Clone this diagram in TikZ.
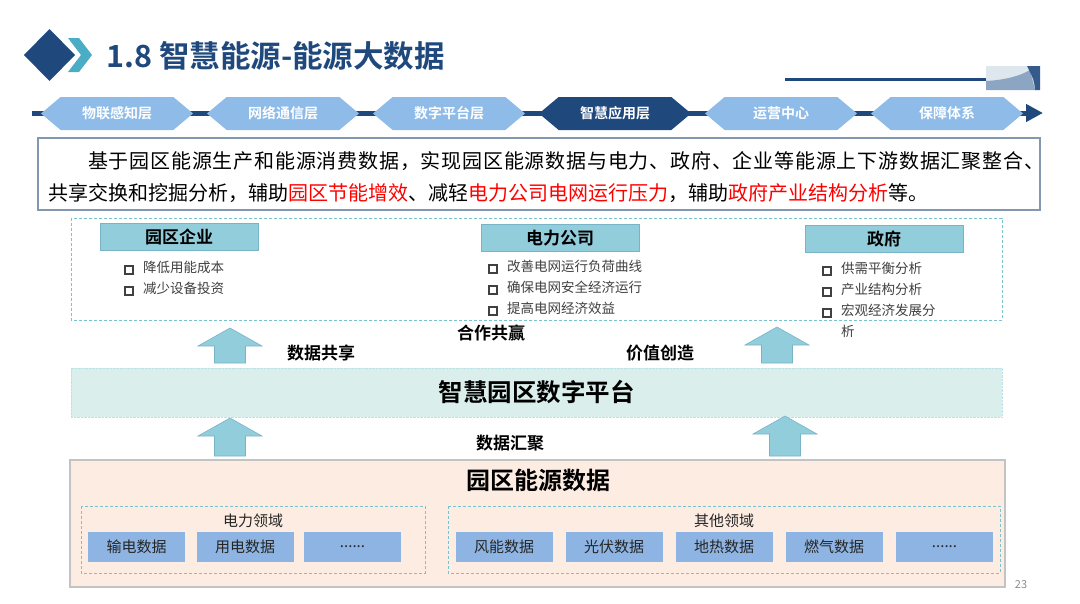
\documentclass[tikz,border=0pt]{standalone}
\usepackage{fontspec}
\setmainfont{Noto Sans CJK SC}[BoldFont={Noto Sans CJK SC Bold}]
\definecolor{titleblue}{RGB}{31, 73, 125}
\definecolor{chevteal}{RGB}{75, 172, 198}
\definecolor{tablight}{RGB}{142, 187, 232}
\definecolor{descborder}{RGB}{132, 151, 176}
\definecolor{headfill}{RGB}{146, 205, 220}
\definecolor{headdraw}{RGB}{120, 180, 200}
\definecolor{dashteal}{RGB}{120, 195, 205}
\definecolor{platfill}{RGB}{218, 238, 236}
\definecolor{peach}{RGB}{253, 236, 226}
\definecolor{peachborder}{RGB}{195, 195, 195}
\definecolor{datafill}{RGB}{141, 180, 226}
\definecolor{itemgray}{RGB}{64, 64, 64}
\definecolor{hotred}{RGB}{255, 0, 0}
\definecolor{decolight}{RGB}{222, 230, 238}
\definecolor{decomid}{RGB}{140, 165, 195}
\usetikzlibrary{shapes.symbols, arrows.meta, positioning}

\newcommand{\sqbul}{{\setlength{\fboxrule}{2pt}\setlength{\fboxsep}{0pt}\raisebox{0pt}{\fbox{\rule{0pt}{6pt}\rule{6pt}{0pt}}}}\hspace*{9pt}}
\newcommand{\uparr}[3]{%
  \draw[blockarrow] (#1,#2) -- ++(32,18) -- ++(-16.5,0) -- ++(0,#3) -- ++(-31,0) -- ++(0,-#3) -- ++(-16.5,0) -- cycle;}

\begin{document}
\begin{tikzpicture}[x=1pt, y=-1pt,
  tab/.style={signal, signal to=east and west, signal pointer angle=80, minimum width=152, minimum height=33, inner sep=0, fill=tablight, text=white, font=\bfseries\fontsize{14}{16}\selectfont},
  headbox/.style={draw=headdraw, fill=headfill, minimum width=158, minimum height=27, inner sep=0, font=\bfseries\fontsize{17}{19}\selectfont},
  itemlist/.style={anchor=north west, inner sep=0, align=left, text=itemgray, font=\fontsize{13.5}{21}\selectfont},
  midlabel/.style={font=\bfseries\fontsize{17}{19}\selectfont},
  blockarrow/.style={draw=headdraw, fill=headfill, line width=0.6},
  tealdash/.style={draw=dashteal, line width=1, dash pattern=on 3pt off 2pt},
  databox/.style={fill=datafill, minimum width=97, minimum height=30, inner sep=0, text=black!85, font=\fontsize{15}{17}\selectfont},
  fieldlabel/.style={text=black!85, font=\fontsize{15}{17}\selectfont}]
  \useasboundingbox (0,0) rectangle (1080,603);
  \fill[white] (0,0) rectangle (1080,603);

  % Title
  \fill[titleblue] (49.5,29) -- (75,55) -- (49.5,81) -- (24,55) -- cycle;
  \fill[chevteal] (68,38) -- (79,38) -- (92,55) -- (79,72) -- (68,72) -- (81,55) -- cycle;
  \node[anchor=west, inner sep=0, text=titleblue, font=\bfseries\fontsize{30.5}{32}\selectfont] (title) at (106,56) {1.8 智慧能源-能源大数据};

  % Top right decoration
  \coordinate (rulestart) at (785,79);
  \coordinate (ruleend) at (986,79);
  \draw[titleblue, line width=3] (rulestart) -- (ruleend);
  \fill[decolight] (986,66) rectangle (1040,90);
  \fill[decomid] (986,90) -- (986,81) .. controls (1005,80) and (1020,76) .. (1030,70) -- (1035,90) -- cycle;
  \fill[titleblue!90] (1027,66) -- (1040,66) -- (1040,90) -- (1035,90) .. controls (1034,80) .. (1027,66) -- cycle;

  % Layer bar
  \coordinate (barstart) at (32,113);
  \coordinate (barend) at (1043,113);
  \draw[titleblue, line width=5, -{Triangle[length=17pt, width=17pt]}] (barstart) -- (barend);
  \node[tab] (tab1) at (117,113.5) {物联感知层};
  \node[tab] (tab2) at (283,113.5) {网络通信层};
  \node[tab] (tab3) at (449,113.5) {数字平台层};
  \node[tab, fill=titleblue] (tab4) at (615,113.5) {智慧应用层};
  \node[tab] (tab5) at (781,113.5) {运营中心};
  \node[tab] (tab6) at (947,113.5) {保障体系};

  % Description
  \draw[descborder, line width=2.5, fill=white] (38,138) rectangle (1040,210);
  \node[anchor=west, inner sep=0, font=\fontsize{20}{24}\selectfont\addfontfeature{LetterSpace=4}] (desc1) at (88,161) {基于园区能源生产和能源消费数据，实现园区能源数据与电力、政府、企业等能源上下游数据汇聚整合、};
  \node[anchor=west, inner sep=0, font=\fontsize{20}{24}\selectfont] (desc2) at (48,193) {共享交换和挖掘分析，辅助\textcolor{hotred}{园区节能增效}、减轻\textcolor{hotred}{电力公司电网运行压力}，辅助\textcolor{hotred}{政府产业结构分析}等。};

  % Beneficiaries
  \draw[tealdash] (71,218) rectangle (1002,320);
  \node[headbox] (park) at (179,236.5) {园区企业};
  \node[headbox] (grid) at (560,238) {电力公司};
  \node[headbox] (gov) at (884,238.5) {政府};
  \node[itemlist] (parkitems) at (124,261) {\sqbul 降低用能成本\\ \sqbul 减少设备投资};
  \node[itemlist] (griditems) at (488,260) {\sqbul 改善电网运行负荷曲线\\ \sqbul 确保电网安全经济运行\\ \sqbul 提高电网经济效益};
  \node[itemlist] (govitems) at (822,262) {\sqbul 供需平衡分析\\ \sqbul 产业结构分析\\ \sqbul 宏观经济发展分\\ \hspace*{19pt}析};

  % Arrows and labels
  \uparr{230}{328}{17}
  \uparr{777}{327}{18}
  \node[midlabel] (win) at (491,333) {合作共赢};
  \node[midlabel] (share) at (321,353) {数据共享};
  \node[midlabel] (value) at (660,353) {价值创造};

  % Platform
  \node[fill=platfill, draw=dashteal!50, densely dotted, minimum width=931, minimum height=49, inner sep=0, font=\bfseries\fontsize{24.5}{26}\selectfont] (platform) at (536.5,392.5) {智慧园区数字平台};

  \uparr{230}{418}{20}
  \uparr{785}{416}{22}
  \node[midlabel] (gather) at (510,443) {数据汇聚};

  % Energy data
  \draw[peachborder, line width=2.5, fill=peach] (70,460) rectangle (1005,587);
  \node[font=\bfseries\fontsize{24}{26}\selectfont] (energy) at (538,480) {园区能源数据};
  \draw[tealdash] (81,506) rectangle (425,573);
  \draw[tealdash] (448,506) rectangle (1000,573);
  \node[fieldlabel] (powerfield) at (253,521) {电力领域};
  \node[fieldlabel] (otherfield) at (724,521) {其他领域};
  \node[databox] (trans) at (136.5,547) {输电数据};
  \node[databox] (use) at (245,547) {用电数据};
  \node[databox] (pmore) at (352.5,547) {......};
  \node[databox] (wind) at (504,547) {风能数据};
  \node[databox] (solar) at (614,547) {光伏数据};
  \node[databox] (heat) at (724,547) {地热数据};
  \node[databox] (gas) at (834,547) {燃气数据};
  \node[databox] (omore) at (944.5,547) {......};

  % Page number
  \node[text=black!45, font=\fontsize{11}{12}\selectfont] (page) at (1021,585) {23};
\end{tikzpicture}
\end{document}
